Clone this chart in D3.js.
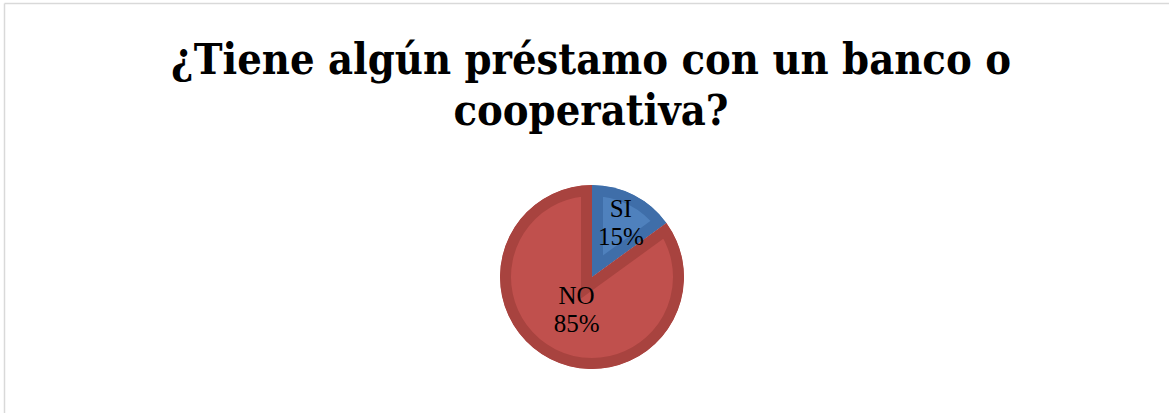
<!DOCTYPE html>
<html>
<head>
<meta charset="utf-8">
<script src="https://cdn.jsdelivr.net/npm/d3@7"></script>
<style>
  body { margin: 0; background: #fff; }
  svg { display: block; }
  .title { font-family: "DejaVu Serif", serif; font-stretch: condensed; font-weight: bold; font-size: 43px; fill: #000; }
  .lbl { font-family: "Liberation Serif", serif; font-size: 25px; fill: #000; }
</style>
</head>
<body>
<svg width="1169" height="413"></svg>
<script>
// chart data
var categories = ["SI", "NO"];
var values = [15, 85];
var labels = ["15%", "85%"];
var titleLines = ["¿Tiene algún préstamo con un banco o", "cooperativa?"];

var fills = ["#4F81BD", "#C0504D"];
var edges = ["#3F6EA9", "#A8433F"];

var svg = d3.select("svg");
var W = +svg.attr("width"), H = +svg.attr("height");

// frame (only top and left edges show)
svg.append("line").attr("x1", 4.5).attr("y1", 3.5).attr("x2", W).attr("y2", 3.5)
    .attr("stroke", "#d9d9d9").attr("stroke-width", 1.5);
svg.append("line").attr("x1", 4.5).attr("y1", 3.5).attr("x2", 4.5).attr("y2", H)
    .attr("stroke", "#d9d9d9").attr("stroke-width", 1.5);

// title
svg.selectAll("text.title").data(titleLines).enter().append("text")
    .attr("class", "title")
    .attr("x", 591)
    .attr("y", (d, i) => 74 + i * 51)
    .attr("text-anchor", "middle")
    .text(d => d);

var CX = 592, CY = 277, R = 92;
var g = svg.append("g").attr("transform", "translate(" + CX + "," + CY + ")");

var pie = d3.pie().sort(null).value(d => d.v);
var arcs = pie(categories.map((c, i) => ({c: c, v: values[i], l: labels[i], i: i})));
var arc = d3.arc().innerRadius(0).outerRadius(R);

var defs = svg.append("defs");
arcs.forEach(function(a, i) {
    defs.append("clipPath").attr("id", "clip" + i)
        .append("path").attr("d", arc(a));
});

// slices with darker inset band (bevel look)
g.selectAll("path.slice").data(arcs).enter().append("path")
    .attr("class", "slice")
    .attr("d", arc)
    .attr("fill", d => fills[d.data.i])
    .attr("stroke", d => edges[d.data.i])
    .attr("stroke-width", 22)
    .attr("stroke-linejoin", "miter")
    .attr("clip-path", d => "url(#clip" + d.data.i + ")");

// labels: small slice further out, big slice nearer the centre
var lab = g.selectAll("text.lbl").data(arcs).enter().append("text")
    .attr("class", "lbl")
    .attr("text-anchor", "middle")
    .attr("transform", function(d) {
        var big = (d.endAngle - d.startAngle) > Math.PI;
        var r = big ? R * 0.37 : R * 0.69;
        var c = d3.arc().innerRadius(r).outerRadius(r).centroid(d);
        return "translate(" + c + ")";
    });
lab.append("tspan").attr("x", 0).attr("dy", "-0.15em").text(d => d.data.c);
lab.append("tspan").attr("x", 0).attr("dy", "1.15em").text(d => d.data.l);
</script>
</body>
</html>
